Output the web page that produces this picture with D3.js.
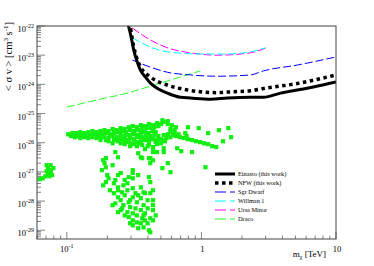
<!DOCTYPE html>
<html>
<head>
<meta charset="utf-8">
<script src="https://cdn.jsdelivr.net/npm/d3@7"></script>
<style>
  body { margin: 0; background: #fff; }
  text { font-family: "Liberation Serif", "DejaVu Serif", serif; fill: #000; }
</style>
</head>
<body>
<div id="chart"></div>
<script>
// limit curves: [mass in TeV, <sigma v> in cm^3 s^-1]
var einasto = [[0.2815, 1.4e-22], [0.288, 9.5e-23], [0.300, 4.3e-23], [0.314, 1.5e-23], [0.333, 6.0e-24],
  [0.352, 3.1e-24], [0.383, 1.8e-24], [0.418, 1.1e-24], [0.479, 6.9e-25], [0.559, 5.0e-25],
  [0.698, 3.6e-25], [0.828, 3.4e-25], [1.17, 3.1e-25], [1.56, 3.4e-25], [2.31, 3.6e-25],
  [2.89, 3.6e-25], [3.87, 5.0e-25], [6.80, 8.1e-25], [10, 1.2e-24]];
var nfw = [[0.290, 1.4e-22], [0.296, 9.5e-23], [0.307, 3.3e-23], [0.323, 1.15e-23], [0.352, 4.0e-24],
  [0.418, 1.8e-24], [0.556, 9.5e-25], [0.735, 6.8e-25], [0.98, 5.6e-25], [1.31, 5.2e-25],
  [1.73, 5.6e-25], [2.31, 6.0e-25], [2.89, 7.2e-25], [5.17, 1.07e-24], [10, 2.1e-24]];
var sgrDwarf = [[0.307, 6.8e-24], [0.418, 3.9e-24], [0.558, 2.6e-24], [0.828, 2.1e-24], [1.31, 1.9e-24],
  [2.31, 2.1e-24], [2.89, 2.9e-24], [5.17, 4.6e-24], [10, 8.7e-24]];
var willman1 = [[0.307, 3.9e-23], [0.418, 1.9e-23], [0.558, 1.3e-23], [0.983, 1.1e-23], [1.56, 1.1e-23],
  [2.31, 1.3e-23], [2.99, 1.8e-23]];
var ursaMinor = [[0.307, 8.5e-23], [0.418, 3.3e-23], [0.558, 1.8e-23], [0.828, 1.2e-23], [1.31, 1.0e-23],
  [2.31, 1.2e-23], [3.04, 1.8e-23]];
var draco = [[0.1, 1.66e-25], [0.177, 3.1e-25], [0.28, 5.0e-25], [0.418, 8.7e-25], [0.983, 2.9e-24]];

// model scan points: [log10(m / TeV), log10(<sigma v> / cm^3 s^-1)]
var scanPoints = [
  // upper band
  [-0.99,-25.71],[-0.96,-25.67],[-0.93,-25.67],[-0.90,-25.64],[-0.87,-25.67],[-0.84,-25.64],[-0.81,-25.60],
  [-0.78,-25.64],[-0.75,-25.60],[-0.72,-25.57],[-0.69,-25.60],[-0.66,-25.53],[-0.63,-25.57],[-0.60,-25.50],
  [-0.57,-25.53],[-0.54,-25.47],[-0.51,-25.43],[-0.48,-25.47],[-0.45,-25.40],[-0.42,-25.43],[-0.39,-25.36],
  [-0.36,-25.40],[-0.33,-25.33],[-0.30,-25.36],[-0.28,-25.29],[-0.25,-25.36],[-0.22,-25.40],[-0.19,-25.47],
  [-0.29,-25.23],[-0.25,-25.26],
  [-0.97,-25.77],[-0.94,-25.81],[-0.91,-25.77],[-0.89,-25.74],[-0.86,-25.77],[-0.83,-25.74],[-0.80,-25.71],
  [-0.77,-25.74],[-0.74,-25.71],[-0.71,-25.67],[-0.68,-25.71],[-0.65,-25.67],[-0.62,-25.64],[-0.59,-25.60],
  [-0.56,-25.64],[-0.53,-25.57],[-0.50,-25.60],[-0.47,-25.57],[-0.44,-25.53],[-0.41,-25.50],[-0.38,-25.50],
  [-0.35,-25.47],[-0.32,-25.43],[-0.23,-25.53],[-0.20,-25.57],
  [-0.90,-25.84],[-0.84,-25.84],[-0.78,-25.84],[-0.72,-25.81],[-0.69,-25.84],[-0.66,-25.77],[-0.63,-25.81],
  [-0.60,-25.74],[-0.57,-25.77],[-0.54,-25.74],[-0.51,-25.71],[-0.48,-25.74],[-0.45,-25.67],[-0.42,-25.64],
  [-0.39,-25.67],[-0.36,-25.60],[-0.34,-25.64],[-0.23,-25.64],[-0.20,-25.67],
  [-0.75,-25.91],[-0.69,-25.95],[-0.65,-25.91],[-0.62,-25.88],[-0.59,-25.88],[-0.56,-25.91],[-0.53,-25.84],
  [-0.50,-25.88],[-0.47,-25.81],[-0.44,-25.81],[-0.41,-25.77],[-0.38,-25.77],[-0.35,-25.74],[-0.32,-25.77],
  [-0.28,-25.74],[-0.25,-25.71],
  [-0.66,-26.02],[-0.60,-26.02],[-0.57,-26.05],[-0.54,-25.98],[-0.51,-26.02],[-0.48,-25.98],[-0.45,-25.95],
  [-0.42,-25.91],[-0.39,-25.91],[-0.36,-25.88],[-0.33,-25.91],[-0.30,-25.88],[-0.26,-25.84],[-0.23,-25.81],
  [-0.53,-26.12],[-0.48,-26.12],[-0.44,-26.08],[-0.39,-26.05],[-0.36,-26.15],[-0.33,-26.05],[-0.30,-26.02],
  [-0.42,-26.22],[-0.27,-25.95],
  [-0.93,-25.74],[-0.87,-25.81],[-0.81,-25.81],[-0.75,-25.81],[-0.71,-25.91],[-0.62,-25.95],[-0.57,-25.98],
  [-0.50,-26.05],[-0.46,-26.02],[-0.40,-26.12],[-0.34,-25.98],[-0.28,-25.91],[-0.21,-25.74],
  // streak to the right
  [-0.19,-25.77],[-0.16,-25.81],[-0.13,-25.84],[-0.10,-25.88],[-0.07,-25.91],[-0.04,-25.95],[-0.01,-25.98],
  [0.02,-26.02],[0.05,-26.05],[0.08,-26.12],[0.11,-26.15],[-0.17,-25.71],[-0.11,-25.77],
  [-0.10,-25.47],[-0.02,-25.50],[0.05,-25.67],[0.13,-25.57],[0.20,-25.50],[0.22,-25.81],[0.16,-25.95],
  [-0.18,-26.19],[-0.15,-26.29],[-0.07,-26.32],[-0.28,-26.19],[0.03,-26.84],[-0.12,-25.67],
  [-0.64,-26.32],
  // low mass group
  [-1.15,-26.77],[-1.14,-26.87],[-1.12,-26.94],[-1.10,-26.87],[-1.12,-27.01],[-1.14,-27.08],[-1.16,-27.15],
  [-1.18,-27.22],[-1.20,-27.25],[-1.13,-27.15],[-1.11,-27.11],[-1.15,-26.98],[-1.12,-26.77],
  // falling branch
  [-0.62,-26.50],[-0.71,-26.53],[-0.72,-26.70],[-0.66,-26.77],[-0.74,-26.94],[-0.70,-27.11],[-0.62,-27.11],
  [-0.60,-27.04],[-0.64,-27.28],[-0.71,-27.35],[-0.73,-27.46],[-0.65,-27.39],[-0.57,-27.28],[-0.55,-27.39],
  [-0.51,-26.94],[-0.51,-27.04],[-0.47,-27.11],[-0.45,-26.50],[-0.39,-26.53],[-0.38,-26.70],[-0.36,-26.60],
  [-0.36,-26.32],[-0.45,-27.53],[-0.39,-27.18],[-0.38,-27.35],[-0.36,-27.63],[-0.42,-27.73],[-0.65,-27.73],
  [-0.62,-27.87],[-0.60,-27.97],[-0.64,-28.08],[-0.66,-28.14],[-0.58,-28.14],[-0.53,-27.97],[-0.51,-27.87],
  [-0.48,-28.04],[-0.45,-27.90],[-0.43,-28.14],[-0.40,-28.25],[-0.36,-28.31],[-0.38,-28.59],[-0.36,-28.66],
  [-0.40,-28.76],[-0.45,-28.76],[-0.51,-28.66],[-0.54,-28.55],[-0.55,-28.38],[-0.51,-28.42],[-0.48,-28.49],
  [-0.44,-28.59],[-0.43,-28.90],[-0.39,-29.00],[-0.38,-29.07],[-0.47,-28.93],[-0.51,-28.83],[-0.53,-28.76],
  [-0.60,-28.31],[-0.57,-28.49],[-0.62,-28.38],[-0.59,-27.70],[-0.55,-27.63],[-0.51,-27.56],[-0.49,-27.73],
  [-0.43,-27.70],[-0.38,-27.73],[-0.36,-27.97],[-0.36,-28.14],[-0.34,-28.49],[-0.58,-27.46],[-0.62,-27.53],
  [-0.54,-27.18],[-0.51,-27.22],[-0.73,-26.60],[-0.71,-26.84],[-0.47,-26.36],[-0.44,-26.53],[-0.38,-26.53],
  [-0.33,-26.32],[-0.36,-26.19],[-0.28,-26.32],[-0.25,-26.70],[-0.23,-27.01],[-0.29,-26.87],[-0.68,-27.63],
  [-0.69,-27.22],[-0.62,-27.63],[-0.57,-27.80],[-0.53,-28.21],[-0.49,-28.25],[-0.45,-28.31],[-0.42,-28.42],
  [-0.40,-27.97],[-0.47,-27.80],[-0.54,-28.04],[-0.59,-28.25],[-0.42,-28.66],[-0.48,-28.73],[-0.43,-28.49]
];

var yDecades = [-22, -23, -24, -25, -26, -27, -28, -29];
var xTickLabels = [{ v: 0.1, base: "10", sup: "-1" }, { v: 1, base: "1", sup: "" }, { v: 10, base: "10", sup: "" }];

var legendItems = [
  { label: "Einasto (this work)", color: "#000", width: 3, dash: null },
  { label: "NFW (this work)", color: "#000", width: 3.5, dash: "3.5,3.5" },
  { label: "Sgr Dwarf", color: "#0000ff", width: 1, dash: "11,4" },
  { label: "Willman 1", color: "#00ffff", width: 1, dash: "11,4" },
  { label: "Ursa Minor", color: "#ff00ff", width: 1, dash: "11,4" },
  { label: "Draco", color: "#22ff22", width: 1, dash: "11,4" }
];

function drawChart() {
  var W = 374, H = 266;
  var left = 37, right = 336, top = 26, bottom = 239;

  var svg = d3.select("#chart").append("svg")
    .attr("width", W).attr("height", H);

  var x = d3.scaleLog().domain([0.06, 10]).range([left, right]);
  var y = d3.scaleLog().domain([Math.pow(10, -29.3), 1e-22]).range([bottom, top]);

  svg.append("clipPath").attr("id", "frame-clip")
    .append("rect").attr("x", left).attr("y", top)
    .attr("width", right - left).attr("height", bottom - top);

  // ticks, drawn inside the frame
  var yTicks = y.ticks(80).filter(function (t) { return t >= y.domain()[0] && t <= 1e-22; });
  svg.append("g").selectAll("line").data(yTicks).enter().append("line")
    .attr("x1", left)
    .attr("x2", function (d) { return Math.abs(Math.log10(d) - Math.round(Math.log10(d))) < 1e-6 ? left + 8 : left + 4; })
    .attr("y1", function (d) { return y(d); })
    .attr("y2", function (d) { return y(d); })
    .attr("stroke", "#666").attr("stroke-width", 0.8);

  var xTicks = x.ticks(40).filter(function (t) { return t >= 0.06 && t <= 10; });
  svg.append("g").selectAll("line").data(xTicks).enter().append("line")
    .attr("x1", function (d) { return x(d); })
    .attr("x2", function (d) { return x(d); })
    .attr("y1", bottom)
    .attr("y2", function (d) { return Math.abs(Math.log10(d) - Math.round(Math.log10(d))) < 1e-6 ? bottom - 7 : bottom - 3.5; })
    .attr("stroke", "#666").attr("stroke-width", 0.8);

  // scan points
  svg.append("g").attr("clip-path", "url(#frame-clip)")
    .selectAll("rect").data(scanPoints).enter().append("rect")
    .attr("x", function (d) { return x(Math.pow(10, d[0])) - 2.1; })
    .attr("y", function (d) { return y(Math.pow(10, d[1])) - 2.1; })
    .attr("width", 4.2).attr("height", 4.2)
    .attr("fill", "#11ee11");

  var line = d3.line()
    .x(function (d) { return x(d[0]); })
    .y(function (d) { return y(d[1]); })
    .curve(d3.curveMonotoneX);

  var curves = [
    { data: draco, style: legendItems[5] },
    { data: ursaMinor, style: legendItems[4] },
    { data: willman1, style: legendItems[3] },
    { data: sgrDwarf, style: legendItems[2] },
    { data: nfw, style: legendItems[1] },
    { data: einasto, style: legendItems[0] }
  ];
  var cg = svg.append("g").attr("clip-path", "url(#frame-clip)");
  curves.forEach(function (c) {
    cg.append("path")
      .attr("d", line(c.data))
      .attr("fill", "none")
      .attr("stroke", c.style.color)
      .attr("stroke-width", c.style.width)
      .attr("stroke-dasharray", c.style.dash ? (c.style.width > 2 ? c.style.dash : "8,3") : null);
  });

  // frame
  svg.append("rect")
    .attr("x", left).attr("y", top)
    .attr("width", right - left).attr("height", bottom - top)
    .attr("fill", "none").attr("stroke", "#444").attr("stroke-width", 1);

  // y tick labels
  var yl = svg.append("g");
  yDecades.forEach(function (e) {
    var t = yl.append("text")
      .attr("x", left - 3)
      .attr("y", y(Math.pow(10, e)) + 6)
      .attr("text-anchor", "end")
      .attr("font-size", 8.5);
    t.append("tspan").text("10");
    t.append("tspan").attr("font-size", 6).attr("dy", -4.5).text(String(e));
  });

  // x tick labels
  xTickLabels.forEach(function (d) {
    var t = svg.append("text")
      .attr("x", x(d.v) + (d.sup ? 0 : 1))
      .attr("y", 252)
      .attr("text-anchor", "middle")
      .attr("font-size", 8.5);
    t.append("tspan").text(d.base);
    if (d.sup) t.append("tspan").attr("font-size", 6).attr("dy", -4).text(d.sup);
  });

  // axis titles
  var xt = svg.append("text")
    .attr("x", 326).attr("y", 257)
    .attr("text-anchor", "end")
    .attr("font-size", 9);
  xt.append("tspan").text("m");
  xt.append("tspan").attr("font-size", 6).attr("dy", 2).text("\u03c7");
  xt.append("tspan").attr("dy", -2).text(" [TeV]");

  var ytitle = svg.append("text")
    .attr("transform", "translate(12,22) rotate(-90)")
    .attr("text-anchor", "end")
    .attr("font-size", 10.5);
  ytitle.append("tspan").text("< \u03c3 v > [cm");
  ytitle.append("tspan").attr("font-size", 7).attr("dy", -4).text("3");
  ytitle.append("tspan").attr("dy", 4).text(" s");
  ytitle.append("tspan").attr("font-size", 7).attr("dy", -4).text("-1");
  ytitle.append("tspan").attr("dy", 4).text("]");

  // legend
  var lg = svg.append("g");
  legendItems.forEach(function (d, i) {
    var ly = 174 + i * 9;
    lg.append("line")
      .attr("x1", 215).attr("x2", 235)
      .attr("y1", ly).attr("y2", ly)
      .attr("stroke", d.color)
      .attr("stroke-width", d.width)
      .attr("stroke-dasharray", d.dash);
    lg.append("text")
      .attr("x", 238).attr("y", ly + 2.2)
      .attr("font-size", 6.3)
      .text(d.label);
  });
}

window.onload = function () {
  drawChart();
};
</script>
</body>
</html>
